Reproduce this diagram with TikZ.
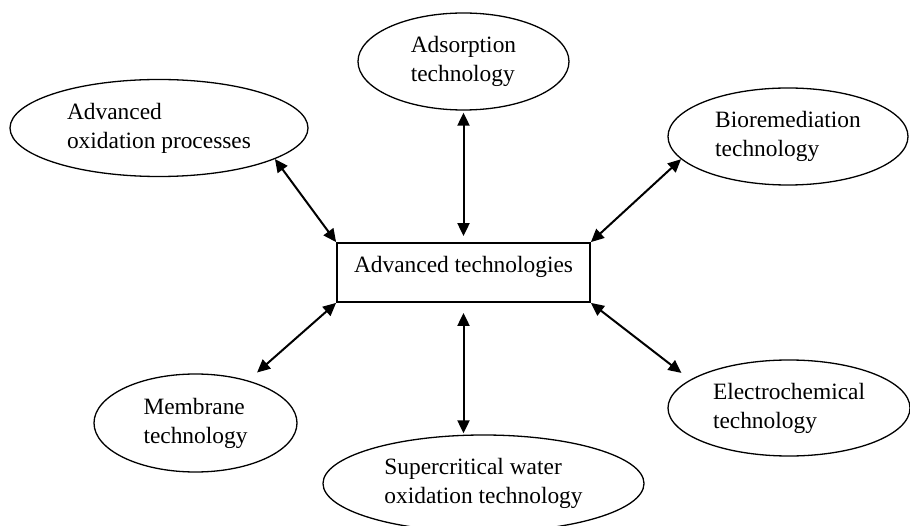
\documentclass[tikz,border=0pt]{standalone}
\usepackage{fontspec}
\setmainfont{Liberation Serif}
\usetikzlibrary{shapes.geometric, arrows.meta}

\begin{document}
\begin{tikzpicture}[x=1pt, y=-1pt]
        % Setup the styles for the shapes and links
        \tikzset{tech style/.style={ellipse, draw,
                                    line width=1.3pt,
                                    inner sep=0pt,
                                    align=left,
                                    font=\fontsize{23.4}{29}\selectfont},
                 hub style/.style={rectangle, draw,
                                   line width=1.8pt,
                                   minimum width=253pt,
                                   minimum height=59pt,
                                   text height=16pt,
                                   text depth=16pt,
                                   font=\fontsize{23.4}{29}\selectfont},
                 link style/.style={line width=2pt,
                                    arrows={Triangle[length=13pt,width=12pt]-Triangle[length=13pt,width=12pt]}}}
        \useasboundingbox (0,0) rectangle (910,526);

        % Draw the shapes
        \node[hub style] at (463.5,272.5) (tech) {Advanced technologies};
        \node[tech style, minimum width=298pt, minimum height=97pt] at (159,128)     (aop) {Advanced\\oxidation processes};
        \node[tech style, minimum width=211pt, minimum height=97pt] at (463.5,61.5)  (ads) {Adsorption\\technology};
        \node[tech style, minimum width=240pt, minimum height=97pt] at (788,136.5)   (bio) {Bioremediation\\technology};
        \node[tech style, minimum width=203pt, minimum height=98pt] at (195.5,423)   (mem) {Membrane\\technology};
        \node[tech style, minimum width=321pt, minimum height=97pt] at (483.5,483.5) (sup) {Supercritical water\\oxidation technology};
        \node[tech style, minimum width=242pt, minimum height=96pt] at (789,408)     (ele) {Electrochemical\\technology};

        % Connect the shapes with arrows
        \draw
            (aop.-15)     edge[link style]                                (tech.north west)
            (ads.south)   edge[link style, shorten <=2pt, shorten >=6pt]  (tech.north)
            (bio.192)     edge[link style]                                (tech.north east)
            (mem.39)      edge[link style, shorten <=12pt]                (tech.south west)
            (tech.south |- sup.north) edge[link style, shorten <=1pt, shorten >=10pt] (tech.south)
            (ele.164)     edge[link style, shorten <=11pt]                (tech.south east);
\end{tikzpicture}
\end{document}
